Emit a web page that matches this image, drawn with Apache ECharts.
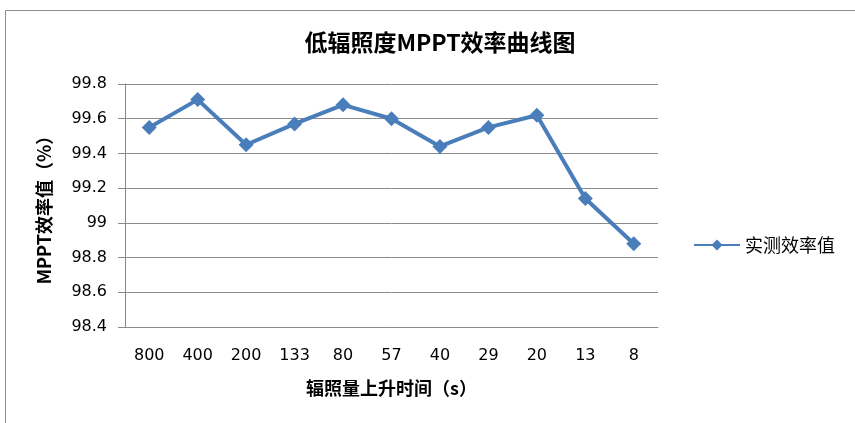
<!DOCTYPE html>
<html>
<head>
<meta charset="utf-8">
<script src="https://cdn.jsdelivr.net/npm/echarts@6/dist/echarts.min.js"></script>
<style>
  html, body { margin: 0; padding: 0; background: #fff; }
  #chart { width: 855px; height: 423px; }
</style>
</head>
<body>
<div id="chart"></div>
<script>
// 辐照量上升时间（s）
const categories = ['800', '400', '200', '133', '80', '57', '40', '29', '20', '13', '8']
// 实测效率值（%）
const efficiency = [99.55, 99.71, 99.45, 99.57, 99.68, 99.60, 99.44, 99.55, 99.62, 99.14, 98.88]

const LINE_COLOR = '#4a7ebb'
const GRID_COLOR = '#8a8a8a'
const FONT = '"Noto Sans CJK SC", "DejaVu Sans", sans-serif'
const NUM_FONT = '"DejaVu Sans", sans-serif'

const chart = echarts.init(document.getElementById('chart'))

chart.setOption({
  backgroundColor: '#fff',
  animation: false,
  textStyle: { fontFamily: FONT },
  title: {
    text: '低辐照度MPPT效率曲线图',
    left: 435,
    top: 26,
    textAlign: 'center',
    textStyle: { fontFamily: FONT, fontSize: 23, fontWeight: 'bold', color: '#000' },
  },
  legend: {
    left: 688,
    top: 231,
    itemWidth: 46,
    itemHeight: 14,
    itemGap: 4,
    textStyle: { fontFamily: FONT, fontSize: 18, color: '#000' },
    data: ['实测效率值'],
  },
  grid: { left: 125, right: 197, top: 84, bottom: 96 },
  xAxis: {
    type: 'category',
    data: categories,
    name: '辐照量上升时间（s）',
    nameLocation: 'middle',
    nameGap: 52,
    nameTextStyle: { fontFamily: FONT, fontSize: 18, fontWeight: 'bold', color: '#000' },
    axisLine: { lineStyle: { color: GRID_COLOR, width: 1 } },
    axisTick: { show: false },
    axisLabel: { color: '#000', fontSize: 16, margin: 21, fontFamily: NUM_FONT },
  },
  yAxis: {
    type: 'value',
    min: 98.4,
    max: 99.8,
    interval: 0.2,
    name: 'MPPT效率值（%）',
    nameLocation: 'middle',
    nameGap: 72,
    nameRotate: 90,
    nameTextStyle: { fontFamily: FONT, fontSize: 18, fontWeight: 'bold', color: '#000' },
    axisLine: { show: true, lineStyle: { color: GRID_COLOR, width: 1 } },
    axisTick: { show: true, length: 7, lineStyle: { color: GRID_COLOR } },
    axisLabel: {
      color: '#000',
      fontSize: 16,
      margin: 18,
      fontFamily: NUM_FONT,
      formatter: (v) => String(+v.toFixed(1)),
    },
    splitLine: { lineStyle: { color: GRID_COLOR, width: 1 } },
  },
  series: [
    {
      name: '实测效率值',
      type: 'line',
      data: efficiency,
      symbol: 'diamond',
      symbolSize: 15,
      lineStyle: { color: LINE_COLOR, width: 4 },
      itemStyle: { color: LINE_COLOR },
    },
  ],
  graphic: [
    {
      type: 'polyline',
      shape: { points: [[5.5, 423], [5.5, 10.5], [855, 10.5]] },
      style: { stroke: '#8c8c8c', lineWidth: 1, fill: null },
      silent: true,
    },
  ],
})
</script>
</body>
</html>
